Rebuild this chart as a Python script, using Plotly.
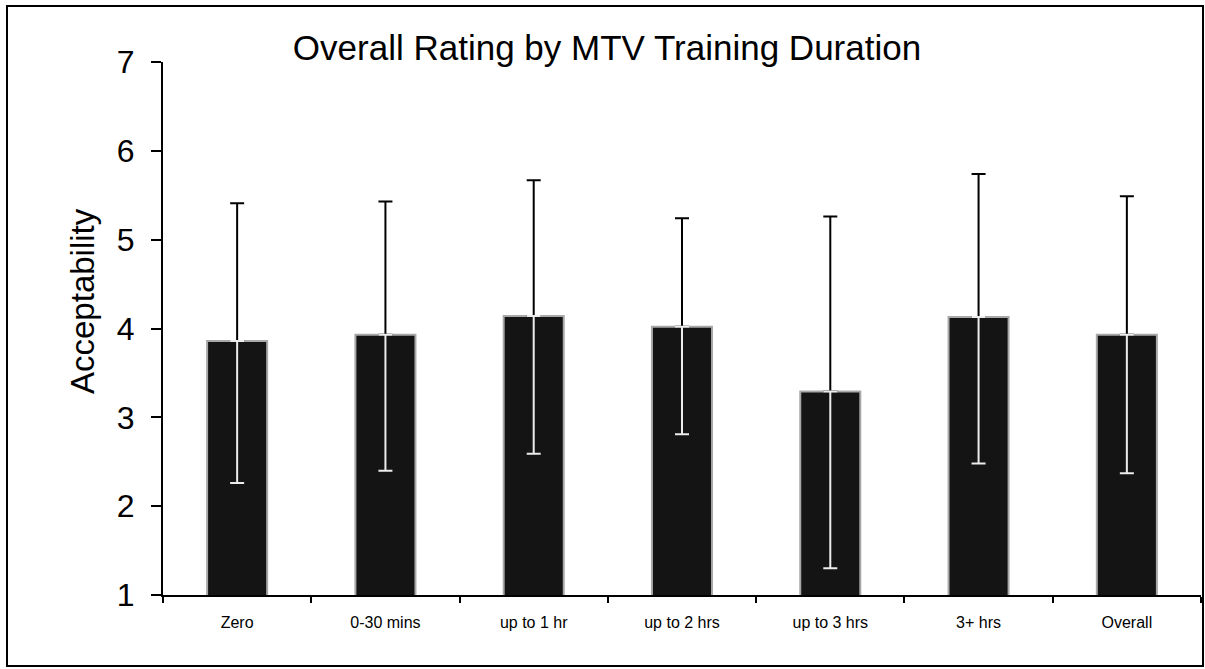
import plotly.graph_objects as go

categories = ["Zero", "0-30 mins", "up to 1 hr", "up to 2 hrs", "up to 3 hrs", "3+ hrs", "Overall"]
means = [3.86, 3.93, 4.14, 4.02, 3.29, 4.13, 3.93]
upper = [5.41, 5.43, 5.67, 5.24, 5.26, 5.74, 5.49]
lower = [2.26, 2.40, 2.59, 2.81, 1.30, 2.48, 2.37]
y_ticks = [1, 2, 3, 4, 5, 6, 7]

plus = [u - m for u, m in zip(upper, means)]
minus = [m - l for m, l in zip(means, lower)]

FONT = "Arial, 'Liberation Sans', sans-serif"

fig = go.Figure()
fig.add_trace(go.Bar(
    x=categories, y=means,
    marker=dict(color="#141414", line=dict(color="#a8a8a8", width=2)),
    error_y=dict(type="data", symmetric=False, array=plus, arrayminus=[0] * len(means),
                 color="black", thickness=2, width=7),
    showlegend=False,
))
fig.add_trace(go.Scatter(
    x=categories, y=means, mode="markers",
    marker=dict(size=1, color="rgba(0,0,0,0)"),
    error_y=dict(type="data", symmetric=False, array=[0] * len(means), arrayminus=minus,
                 color="#ececec", thickness=2, width=7),
    showlegend=False, hoverinfo="skip",
))

W, H = 1205, 669
L, R, T, B = 163, 4, 62, 74
pw, ph = W - L - R, H - T - B

def px_x(x):
    return (x - L) / pw

def px_y(y):
    return (H - B - y) / ph

fig.update_layout(
    width=W, height=H,
    margin=dict(l=L, r=R, t=T, b=B),
    paper_bgcolor="white", plot_bgcolor="white",
    bargap=0.595,
    title=dict(text="Overall Rating by MTV Training Duration", x=607 / W, xanchor="center",
               y=1 - 48 / H, yanchor="middle",
               font=dict(family=FONT, size=35, color="black")),
    font=dict(family=FONT, color="black"),
    xaxis=dict(
        showline=True, linecolor="black", linewidth=2,
        ticks="outside", tickson="boundaries", ticklen=6, tickwidth=2, tickcolor="black",
        tickfont=dict(size=16, family=FONT), ticklabelstandoff=12,
        showgrid=False, zeroline=False,
    ),
    yaxis=dict(
        range=[1, 7], tickvals=y_ticks,
        showline=True, linecolor="black", linewidth=2,
        ticks="outside", ticklen=10, tickwidth=2, tickcolor="black",
        tickfont=dict(size=32, family=FONT), ticklabelstandoff=10,
        showgrid=False, zeroline=False,
    ),
    annotations=[dict(
        text="Acceptability", textangle=-90, showarrow=False,
        xref="paper", yref="paper", x=px_x(82), y=px_y(301),
        xanchor="center", yanchor="middle",
        font=dict(family=FONT, size=33, color="black"),
    )],
    shapes=[dict(
        type="rect", xref="paper", yref="paper",
        x0=px_x(7), x1=px_x(1203), y0=px_y(666), y1=px_y(6),
        line=dict(color="black", width=2), fillcolor="rgba(0,0,0,0)", layer="below",
    )],
)

fig.write_html("out.html", config={"displayModeBar": False},
               post_script="document.body.style.margin='0';document.body.style.overflow='hidden';")
